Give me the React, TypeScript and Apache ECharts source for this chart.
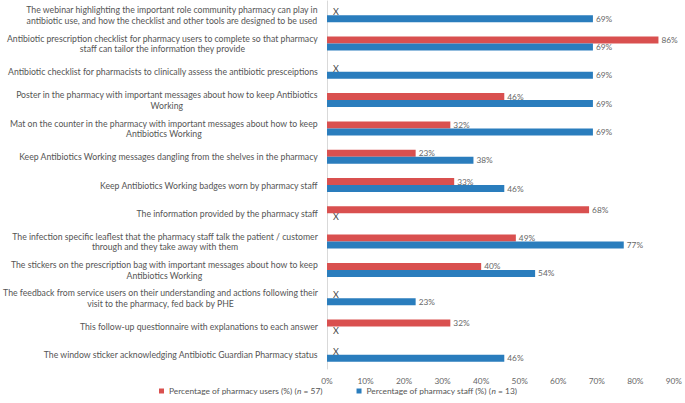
import React, { useEffect, useRef } from 'react';
import * as echarts from 'echarts';

const categories: string[] = [
  'The webinar highlighting the important role community pharmacy can play in\nantibiotic use, and how the checklist and other tools are designed to be used',
  'Antibiotic prescription checklist for pharmacy users to complete so that pharmacy\nstaff can tailor the information they provide',
  'Antibiotic checklist for pharmacists to clinically assess the antibiotic presceiptions',
  'Poster in the pharmacy with important messages about how to keep Antibiotics\nWorking',
  'Mat on the counter in the pharmacy with important messages about how to keep\nAntibiotics Working',
  'Keep Antibiotics Working messages dangling from the shelves in the pharmacy',
  'Keep Antibiotics Working badges worn by pharmacy staff',
  'The information provided by the pharmacy staff',
  'The infection specific leaflest that the pharmacy staff talk the patient / customer\nthrough and they take away with them',
  'The stickers on the prescription bag with important messages about how to keep\nAntibiotics Working',
  'The feedback from service users on their understanding and actions following their\nvisit to the pharmacy, fed back by PHE',
  'This follow-up questionnaire with explanations to each answer',
  'The window sticker acknowledging Antibiotic Guardian Pharmacy status',
];

// null = not asked (shown as "X")
const usersPct: (number | null)[] = [null, 86, null, 46, 32, 23, 33, 68, 49, 40, null, 32, null];
const staffPct: (number | null)[] = [69, 69, 69, 69, 69, 38, 46, null, 77, 54, 23, null, 46];

const xMin = 0;
const xMax = 90;
const xStep = 10;

const usersName = 'Percentage of pharmacy users (%) (n = 57)';
const staffName = 'Percentage of pharmacy staff (%) (n = 13)';
const usersLegend = 'Percentage of pharmacy users (%) ({i|n} = 57)';
const staffLegend = 'Percentage of pharmacy staff (%) ({i|n} = 13)';

const RED = '#d9504f';
const BLUE = '#2a7dbd';
const FONT = 'Lato';
const LABEL_SIZE = 8.7;

function measure(text: string, size: number): number {
  const c = document.createElement('canvas');
  const ctx = c.getContext('2d')!;
  ctx.font = `${size}px ${FONT}`;
  return Math.max(...text.split('\n').map((l) => ctx.measureText(l).width));
}

function toData(arr: (number | null)[]) {
  return arr.map((v) =>
    v == null
      ? { value: 0, label: { formatter: 'X', color: '#444', fontSize: 9, distance: 6 } }
      : { value: v }
  );
}

export default function App() {
  const ref = useRef<HTMLDivElement>(null);
  useEffect(() => {
    if (!ref.current) return;
    const chart = echarts.init(ref.current, undefined, { renderer: 'svg' });
    const yData = categories.map((c) => {
      const w = measure(c, LABEL_SIZE);
      return { value: c, textStyle: { align: 'center', padding: [0, w, 0, 0] } };
    });
    const barLabel = {
      show: true,
      position: 'right',
      distance: 3,
      color: '#666',
      fontSize: 8.3,
      fontFamily: FONT,
      formatter: (p: any) => `${p.value}%`,
    };
    chart.setOption({
      animation: false,
      textStyle: { fontFamily: FONT },
      grid: { left: 325, right: 8, top: 1, bottom: 34, containLabel: false },
      legend: {
        bottom: 3,
        left: 154,
        itemGap: 34,
        icon: 'rect',
        itemWidth: 5,
        itemHeight: 5,
        data: [usersName, staffName],
        formatter: (n: string) => (n === usersName ? usersLegend : staffLegend),
        textStyle: {
          fontSize: 8.4,
          color: '#555',
          fontFamily: FONT,
          rich: { i: { fontStyle: 'italic', fontSize: 8.4, color: '#555', fontFamily: FONT } },
        },
      },
      xAxis: {
        type: 'value',
        min: xMin,
        max: xMax,
        interval: xStep,
        axisLine: { show: false },
        axisTick: { show: false },
        splitLine: { show: false },
        axisLabel: {
          formatter: '{value}%',
          color: '#666',
          fontSize: 8.3,
          fontFamily: FONT,
          margin: 8,
        },
      },
      yAxis: {
        type: 'category',
        inverse: true,
        data: yData,
        axisLine: { show: true, lineStyle: { color: '#d9d9d9' } },
        axisTick: { show: false },
        axisLabel: {
          color: '#555',
          fontSize: LABEL_SIZE,
          fontFamily: FONT,
          lineHeight: 10.5,
          margin: 9,
          interval: 0,
        },
      },
      series: [
        {
          name: usersName,
          type: 'bar',
          data: toData(usersPct),
          barWidth: 7,
          barGap: '0%',
          itemStyle: { color: RED },
          label: barLabel,
        },
        {
          name: staffName,
          type: 'bar',
          data: toData(staffPct),
          barWidth: 7,
          barGap: '0%',
          itemStyle: { color: BLUE },
          label: barLabel,
        },
      ],
    });
    return () => chart.dispose();
  }, []);
  return <div ref={ref} style={{ width: 685, height: 403, position: 'absolute', left: 0, top: 0 }} />;
}
